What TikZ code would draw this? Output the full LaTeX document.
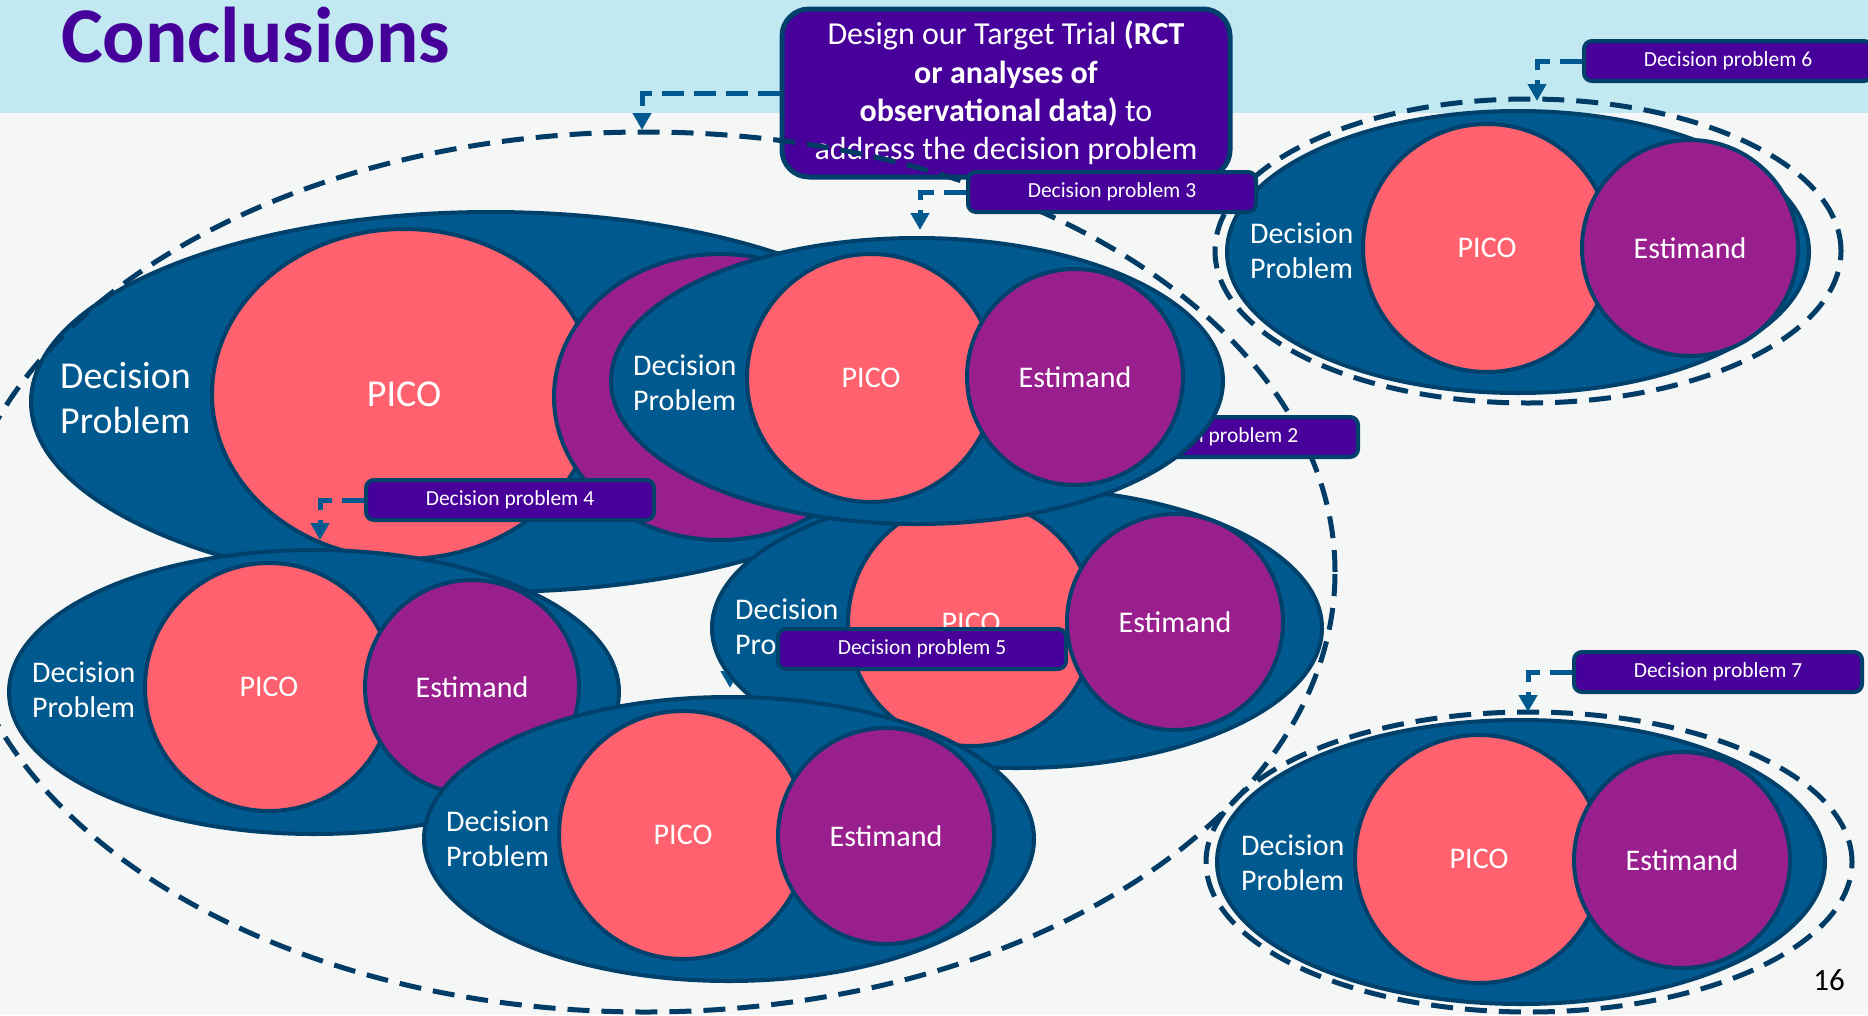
\documentclass[tikz,border=0pt]{standalone}
\usepackage{fontspec}
\setmainfont{Carlito}
\usetikzlibrary{shapes.geometric,arrows.meta}
\definecolor{hdr}{HTML}{C2E8F1}
\definecolor{bgrey}{HTML}{F5F6F6}
\definecolor{titlepurple}{HTML}{440099}
\definecolor{tpurple}{HTML}{48009A}
\definecolor{dpnavy}{HTML}{00416C}
\definecolor{dpblue}{HTML}{005A8F}
\definecolor{dashnavy}{HTML}{003C66}
\definecolor{picored}{HTML}{FF616E}
\definecolor{estpurple}{HTML}{9A1F8E}

\begin{document}
\begin{tikzpicture}[x=1pt,y=-1pt,
  outer/.style={ellipse,draw=dpnavy,fill=dpblue,line width=4pt,inner sep=0pt},
  pico/.style={ellipse,draw=dpnavy,fill=picored,line width=4pt,inner sep=0pt,text=white,font=\fontsize{30pt}{36pt}\selectfont},
  estim/.style={ellipse,draw=dpnavy,fill=estpurple,line width=4pt,inner sep=0pt,text=white,font=\fontsize{30pt}{36pt}\selectfont},
  dptext/.style={align=left,anchor=west,inner sep=0pt,text=white,font=\fontsize{30pt}{35pt}\selectfont},
  dplabel/.style={rectangle,rounded corners=8pt,draw=dpnavy,fill=tpurple,line width=4pt,minimum width=288pt,minimum height=40pt,text=white,font=\fontsize{21.5pt}{26pt}\selectfont},
  conn/.style={draw=dpblue,line width=5pt,dash pattern=on 22pt off 10pt,-{Triangle[width=18pt,length=17pt]}},
  ring/.style={draw=dashnavy,line width=5pt,dash pattern=on 22pt off 12pt}]
\useasboundingbox (0,0) rectangle (1868,1015);
\fill[bgrey] (0,0) rectangle (1868,1015);
\fill[hdr] (0,0) rectangle (1868,113);
\node[anchor=base west,inner sep=0pt,text=titlepurple,font=\fontsize{79pt}{90pt}\selectfont\bfseries] (title) at (61,62) {Conclusions};

% target trial box
\node[rectangle,rounded corners=27pt,draw=dpnavy,fill=tpurple,line width=5pt,minimum width=448pt,minimum height=168pt,text=white,align=center,font=\fontsize{32pt}{38.3pt}\selectfont] (tt) at (1006,93)
  {Design our Target Trial \textbf{(RCT}\\ \textbf{or analyses of}\\ \textbf{observational data)} to\\ address the decision problem};
\coordinate (t1) at (642,130);
\draw[conn] (tt.west) -| (t1);

% decision problem 1
\node[outer,minimum width=920pt,minimum height=380pt] (g1o) at (491,402) {};
\node[pico,minimum width=384pt,minimum height=330pt,font=\fontsize{38pt}{45pt}\selectfont] (g1p) at (404,394) {PICO};
\node[estim,minimum width=332pt,minimum height=286pt] (g1e) at (720,397) {};
\node[dptext,font=\fontsize{38pt}{45pt}\selectfont] (g1t) at (60,398) {Decision\\Problem};

% decision problem 2
\node[outer,minimum width=610pt,minimum height=280pt] (g2o) at (1017,628) {};
\node[pico,minimum width=246pt,minimum height=246pt] (g2p) at (971,623) {PICO};
\node[estim,minimum width=216pt,minimum height=216pt] (g2e) at (1175,622) {Estimand};
\node[dptext] (g2t) at (735,627) {Decision\\Problem};

% big dashed ring
\draw[ring] (645,572) ellipse [x radius=690pt, y radius=440pt];
\node[dplabel] (dp2) at (1214,437) {Decision problem 2};

% decision problem 3
\node[outer,minimum width=612pt,minimum height=286pt] (g3o) at (917,381) {};
\node[pico,minimum width=248pt,minimum height=248pt] (g3p) at (871,378) {PICO};
\node[estim,minimum width=216pt,minimum height=216pt] (g3e) at (1075,377) {Estimand};
\node[dptext] (g3t) at (633,383) {Decision\\Problem};

% decision problem 4
\node[outer,minimum width=610pt,minimum height=284pt] (g4o) at (314,692) {};
\node[pico,minimum width=248pt,minimum height=248pt] (g4p) at (269,687) {PICO};
\node[estim,minimum width=214pt,minimum height=214pt] (g4e) at (472,687) {Estimand};
\node[dptext] (g4t) at (32,690) {Decision\\Problem};

% decision problem 5
\node[outer,minimum width=610pt,minimum height=284pt] (g5o) at (729,839) {};
\node[pico,minimum width=248pt,minimum height=248pt] (g5p) at (683,835) {PICO};
\node[estim,minimum width=216pt,minimum height=216pt] (g5e) at (886,836) {Estimand};
\node[dptext] (g5t) at (446,839) {Decision\\Problem};
\node[dplabel] (dp5) at (922,649) {Decision problem 5};
\coordinate (t5) at (730,688);
\begin{scope}[even odd rule]
  % arrow runs behind decision problem 2
  \clip (0,0) rectangle (1868,1015) (1017,628) ellipse [x radius=307pt, y radius=142pt];
  \draw[conn] (dp5.west) -| (t5);
\end{scope}

% decision problem 6
\draw[ring] (1528,251) ellipse [x radius=313pt, y radius=152pt];
\node[outer,minimum width=582pt,minimum height=282pt] (g6o) at (1518,252) {};
\node[pico,minimum width=248pt,minimum height=248pt] (g6p) at (1487,248) {PICO};
\node[estim,minimum width=216pt,minimum height=216pt] (g6e) at (1690,248) {Estimand};
\node[dptext] (g6t) at (1250,251) {Decision\\Problem};

% decision problem 7
\draw[ring] (1529,862) ellipse [x radius=323pt, y radius=150pt];
\node[outer,minimum width=608pt,minimum height=284pt] (g7o) at (1521,862) {};
\node[pico,minimum width=248pt,minimum height=248pt] (g7p) at (1479,859) {PICO};
\node[estim,minimum width=216pt,minimum height=216pt] (g7e) at (1682,860) {Estimand};
\node[dptext] (g7t) at (1241,863) {Decision\\Problem};

% labels
\node[dplabel] (dp3) at (1112,192) {Decision problem 3};
\coordinate (t3) at (920,230);
\draw[conn] (dp3.west) -| (t3);
\node[dplabel] (dp4) at (510,500) {Decision problem 4};
\coordinate (t4) at (320,540);
\draw[conn] (dp4.west) -| (t4);
\node[dplabel] (dp6) at (1728,61) {Decision problem 6};
\coordinate (t6) at (1537,101);
\draw[conn] (dp6.west) -| (t6);
\node[dplabel] (dp7) at (1718,672) {Decision problem 7};
\coordinate (t7) at (1528,712);
\draw[conn] (dp7.west) -| (t7);

\node[anchor=base east,inner sep=0pt,font=\fontsize{31pt}{36pt}\selectfont] (pg) at (1845,990) {16};
\end{tikzpicture}
\end{document}
